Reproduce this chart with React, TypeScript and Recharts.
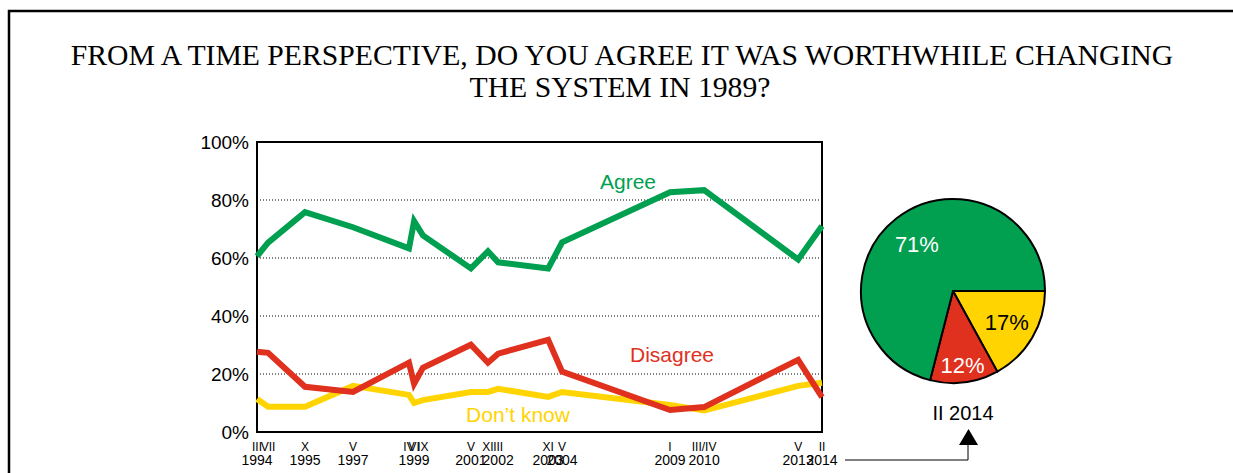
import React from 'react'
import { LineChart, Line, XAxis, YAxis, CartesianGrid, ReferenceArea, PieChart, Pie, Cell } from 'recharts'

// survey waves: month (roman) + year, and position on the time axis
const months = ['III', 'VII', 'X', 'V', 'IV', 'VI', 'IX', 'V', 'XI', 'III', 'XI', 'V', 'I', 'III/IV', 'V', 'II']
const years = ['1994', '', '1995', '1997', '', '1999', '', '2001', '', '2002', '2003', '2004', '2009', '2010', '2013', '2014']
const xPos = [1994.17, 1994.56, 1995.86, 1997.55, 1999.52, 1999.7, 2000.01, 2001.7, 2002.3, 2002.66, 2004.42, 2004.91, 2008.71, 2009.91, 2013.22, 2014.06]

const agree = [60.6, 65.3, 75.8, 70.6, 63.3, 72.7, 67.8, 56.4, 62.3, 58.5, 56.4, 65.4, 82.7, 83.4, 59.5, 71]
const disagree = [27.7, 27.3, 15.6, 13.8, 23.9, 16.6, 22.1, 30.1, 23.9, 27, 31.8, 20.8, 7.6, 8.6, 24.9, 12]
const dontKnow = [11.4, 8.7, 8.7, 15.9, 12.8, 10, 11, 13.8, 13.8, 14.9, 12.1, 13.8, 9.3, 7.4, 15.9, 17]

const yTicks = [0, 20, 40, 60, 80, 100]

// pie for the latest wave (II 2014)
const pieLabels = ["Don't know", 'Disagree', 'Agree']
const pieValues = [17, 12, 71]

const GREEN = '#00a050'
const RED = '#e0301e'
const YELLOW = '#ffd400'
const pieColors = [YELLOW, RED, GREEN]
const pieTextColors = ['#000', '#fff', '#fff']
const pieLabelRadius = [0.68, 0.82, 0.64]

const SANS = '"Liberation Sans", Arial, sans-serif'
const SERIF = '"Liberation Serif", "Times New Roman", serif'

const lineData = xPos.map((t, i) => ({
  t,
  agree: agree[i],
  disagree: disagree[i],
  dontKnow: dontKnow[i],
}))

const pieData = pieLabels.map((name, i) => ({ name, value: pieValues[i] }))

const TimeTick = (props: any) => {
  const { x, y, payload } = props
  const i = xPos.indexOf(payload.value)
  return (
    <g>
      <text x={x} y={y + 11} textAnchor="middle" fontSize={12} fontFamily={SANS} fill="#000">
        {months[i]}
      </text>
      <text x={x} y={y + 25} textAnchor="middle" fontSize={14} fontFamily={SANS} fill="#000">
        {years[i]}
      </text>
    </g>
  )
}

const RADIAN = Math.PI / 180
const renderPieLabel = (props: any) => {
  const { cx, cy, midAngle, outerRadius, index, value } = props
  const r = outerRadius * pieLabelRadius[index]
  const x = cx + r * Math.cos(-midAngle * RADIAN)
  const y = cy + r * Math.sin(-midAngle * RADIAN)
  return (
    <text x={x} y={y} textAnchor="middle" dominantBaseline="central" fontSize={22} fontFamily={SANS} fill={pieTextColors[index]}>
      {value}%
    </text>
  )
}

export default function App() {
  return (
    <div style={{ position: 'fixed', left: 0, top: 0, width: 1233, height: 473, background: '#fff', overflow: 'hidden' }}>
      <div style={{ position: 'absolute', left: 0, top: 0 }}>
        <LineChart width={1233} height={473} data={lineData} margin={{ top: 142, right: 411, left: 0, bottom: 0 }}>
          <CartesianGrid horizontal vertical={false} stroke="#000" strokeDasharray="1 2" />
          <XAxis
            dataKey="t"
            type="number"
            domain={[xPos[0], xPos[xPos.length - 1]]}
            ticks={xPos}
            interval={0}
            height={41}
            axisLine={false}
            tickLine={false}
            tick={<TimeTick />}
          />
          <YAxis
            type="number"
            domain={[0, 100]}
            ticks={yTicks}
            width={257}
            axisLine={false}
            tickLine={false}
            tickFormatter={(v) => `${v}%`}
            tick={{ fontSize: 19, fontFamily: SANS, fill: '#000' }}
          />
          <ReferenceArea x1={xPos[0]} x2={xPos[xPos.length - 1]} y1={0} y2={100} fill="none" fillOpacity={0} stroke="#000" strokeWidth={2} />
          <Line type="linear" dataKey="dontKnow" stroke={YELLOW} strokeWidth={6} dot={false} isAnimationActive={false} />
          <Line type="linear" dataKey="disagree" stroke={RED} strokeWidth={6} dot={false} isAnimationActive={false} />
          <Line type="linear" dataKey="agree" stroke={GREEN} strokeWidth={6} dot={false} isAnimationActive={false} />
        </LineChart>
      </div>

      <div style={{ position: 'absolute', left: 848, top: 186 }}>
        <PieChart width={200} height={200}>
          <Pie
            data={pieData}
            dataKey="value"
            cx={100}
            cy={100}
            outerRadius={92}
            startAngle={0}
            endAngle={-360}
            stroke="#000"
            strokeWidth={2}
            label={renderPieLabel}
            labelLine={false}
            isAnimationActive={false}
          >
            {pieData.map((d, i) => (
              <Cell key={d.name} fill={pieColors[i]} />
            ))}
          </Pie>
        </PieChart>
      </div>

      <svg width={1233} height={473} style={{ position: 'absolute', left: 0, top: 0, pointerEvents: 'none' }}>
        {/* outer frame */}
        <path d="M9 473 L9 11 L1233 11" fill="none" stroke="#000" strokeWidth={2.5} />
        <text x={622} y={65} textAnchor="middle" fontSize={29.7} fontFamily={SERIF} fill="#000">
          FROM A TIME PERSPECTIVE, DO YOU AGREE IT WAS WORTHWHILE CHANGING
        </text>
        <text x={620} y={97} textAnchor="middle" fontSize={29.7} fontFamily={SERIF} fill="#000">
          THE SYSTEM IN 1989?
        </text>
        <text x={628} y={189} textAnchor="middle" fontSize={21} fontFamily={SANS} fill={GREEN}>Agree</text>
        <text x={672} y={362} textAnchor="middle" fontSize={21} fontFamily={SANS} fill={RED}>Disagree</text>
        <text x={518} y={422} textAnchor="middle" fontSize={21} fontFamily={SANS} fill={YELLOW}>Don’t know</text>
        <text x={963} y={420} textAnchor="middle" fontSize={20} fontFamily={SANS} fill="#000">II 2014</text>
        {/* connector from the last wave to the pie */}
        <path d="M845 460 L968 460 L968 444" fill="none" stroke="#000" strokeWidth={1} />
        <path d="M959 445 L978 445 L968.5 429 Z" fill="#000" />
      </svg>
    </div>
  )
}
